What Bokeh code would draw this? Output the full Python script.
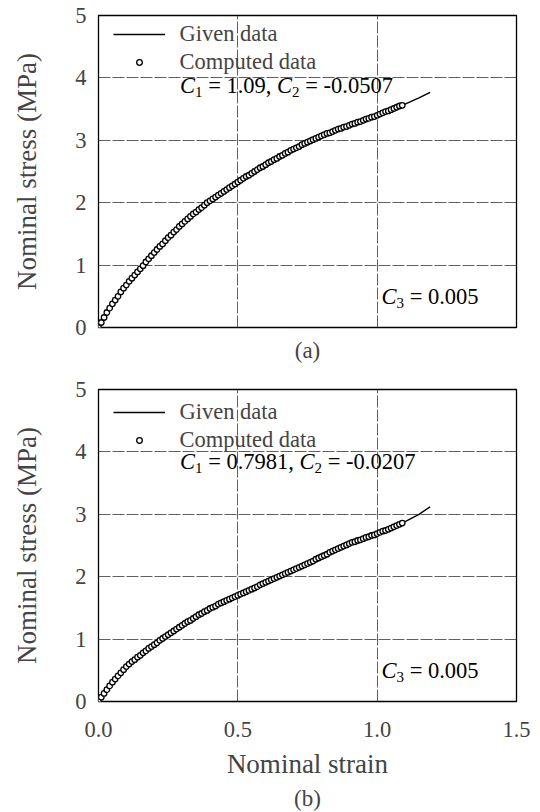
from bokeh.plotting import figure
from bokeh.models import FixedTicker, Legend, LegendItem, Label, Title, Grid
from bokeh.layouts import column
from bokeh.embed import file_html
from bokeh.resources import INLINE

FONT = "Liberation Serif"

# ---------------- data ----------------
x_ticks = [0.0, 0.5, 1.0, 1.5]
x_tick_labels = ["0.0", "0.5", "1.0", "1.5"]
y_ticks = [0, 1, 2, 3, 4, 5]
y_tick_labels = ["0", "1", "2", "3", "4", "5"]

# (a) given data (line)
a_given_strain = [0.0, 0.05, 0.10, 0.15, 0.20, 0.25, 0.30, 0.35, 0.40, 0.45, 0.50, 0.55, 0.60,
                  0.65, 0.70, 0.75, 0.80, 0.85, 0.90, 0.95, 1.00, 1.05, 1.10, 1.15, 1.19]
a_given_stress = [0.0, 0.38, 0.68, 0.94, 1.20, 1.44, 1.66, 1.85, 2.03, 2.18, 2.33, 2.47, 2.61,
                  2.74, 2.86, 2.97, 3.07, 3.16, 3.24, 3.32, 3.40, 3.49, 3.58, 3.68, 3.77]

# computed data strains (both panels)
comp_strain = [0.00, 0.01, 0.02, 0.03, 0.04, 0.05, 0.06, 0.07, 0.08, 0.09,
               0.10, 0.11, 0.12, 0.13, 0.14, 0.15, 0.16, 0.17, 0.18, 0.19,
               0.20, 0.21, 0.22, 0.23, 0.24, 0.25, 0.26, 0.27, 0.28, 0.29,
               0.30, 0.31, 0.32, 0.33, 0.34, 0.35, 0.36, 0.37, 0.38, 0.39,
               0.40, 0.41, 0.42, 0.43, 0.44, 0.45, 0.46, 0.47, 0.48, 0.49,
               0.50, 0.51, 0.52, 0.53, 0.54, 0.55, 0.56, 0.57, 0.58, 0.59,
               0.60, 0.61, 0.62, 0.63, 0.64, 0.65, 0.66, 0.67, 0.68, 0.69,
               0.70, 0.71, 0.72, 0.73, 0.74, 0.75, 0.76, 0.77, 0.78, 0.79,
               0.80, 0.81, 0.82, 0.83, 0.84, 0.85, 0.86, 0.87, 0.88, 0.89,
               0.90, 0.91, 0.92, 0.93, 0.94, 0.95, 0.96, 0.97, 0.98, 0.99,
               1.00, 1.01, 1.02, 1.03, 1.04, 1.05, 1.06, 1.07, 1.08, 1.09]

a_comp_stress = [0.00, 0.08, 0.16, 0.24, 0.31, 0.38, 0.44, 0.50, 0.57, 0.63,
                 0.68, 0.74, 0.79, 0.84, 0.89, 0.94, 0.99, 1.05, 1.10, 1.15,
                 1.20, 1.25, 1.30, 1.34, 1.39, 1.44, 1.48, 1.53, 1.57, 1.62,
                 1.66, 1.70, 1.74, 1.78, 1.82, 1.85, 1.89, 1.92, 1.96, 2.00,
                 2.03, 2.06, 2.09, 2.12, 2.15, 2.18, 2.21, 2.24, 2.27, 2.30,
                 2.33, 2.36, 2.39, 2.42, 2.44, 2.47, 2.50, 2.53, 2.56, 2.58,
                 2.61, 2.64, 2.66, 2.69, 2.71, 2.74, 2.76, 2.79, 2.81, 2.84,
                 2.86, 2.88, 2.90, 2.93, 2.95, 2.97, 2.99, 3.01, 3.03, 3.05,
                 3.07, 3.09, 3.11, 3.12, 3.14, 3.16, 3.18, 3.19, 3.21, 3.22,
                 3.24, 3.26, 3.27, 3.29, 3.30, 3.32, 3.34, 3.35, 3.37, 3.38,
                 3.40, 3.42, 3.44, 3.46, 3.47, 3.49, 3.51, 3.53, 3.55, 3.56]

# (b) given data (line)
b_given_strain = [0.0, 0.05, 0.10, 0.15, 0.20, 0.25, 0.30, 0.35, 0.40, 0.45, 0.50, 0.55, 0.60,
                  0.65, 0.70, 0.75, 0.80, 0.85, 0.90, 0.95, 1.00, 1.05, 1.09, 1.15, 1.19]
b_given_stress = [0.0, 0.31, 0.56, 0.74, 0.91, 1.07, 1.22, 1.36, 1.49, 1.60, 1.70, 1.80, 1.91,
                  2.01, 2.11, 2.21, 2.32, 2.43, 2.53, 2.61, 2.69, 2.78, 2.86, 3.00, 3.12]

b_comp_stress = [0.00, 0.07, 0.13, 0.19, 0.25, 0.31, 0.36, 0.41, 0.46, 0.51,
                 0.56, 0.60, 0.64, 0.67, 0.71, 0.74, 0.78, 0.81, 0.85, 0.88,
                 0.91, 0.94, 0.98, 1.01, 1.04, 1.07, 1.10, 1.13, 1.16, 1.19,
                 1.22, 1.25, 1.28, 1.30, 1.33, 1.36, 1.39, 1.41, 1.44, 1.46,
                 1.49, 1.51, 1.53, 1.56, 1.58, 1.60, 1.62, 1.64, 1.66, 1.68,
                 1.70, 1.72, 1.74, 1.76, 1.78, 1.80, 1.82, 1.84, 1.87, 1.89,
                 1.91, 1.93, 1.95, 1.97, 1.99, 2.01, 2.03, 2.05, 2.07, 2.09,
                 2.11, 2.13, 2.15, 2.17, 2.19, 2.21, 2.23, 2.25, 2.28, 2.30,
                 2.32, 2.34, 2.36, 2.39, 2.41, 2.43, 2.45, 2.47, 2.49, 2.51,
                 2.53, 2.55, 2.56, 2.58, 2.59, 2.61, 2.63, 2.64, 2.66, 2.67,
                 2.69, 2.71, 2.73, 2.74, 2.76, 2.78, 2.80, 2.82, 2.84, 2.86]

a_params = [("C", "i"), ("1", "s"), (" = 1.09, ", "n"), ("C", "i"), ("2", "s"), (" = -0.0507", "n")]
b_params = [("C", "i"), ("1", "s"), (" = 0.7981, ", "n"), ("C", "i"), ("2", "s"), (" = -0.0207", "n")]
c3_text = [("C", "i"), ("3", "s"), (" = 0.005", "n")]

legend_labels = ["Given data", "Computed data"]
x_title = "Nominal strain"
y_title = "Nominal stress (MPa)"

# ---------------- helpers ----------------
# Times / Liberation Serif advance widths (per 1000 em)
ADV = {" ": 250, "=": 564, ".": 250, ",": 250, "-": 333, "C": 667}
for d in "0123456789":
    ADV[d] = 500

FS = 22.5     # main text size px
SUB = 15.0    # subscript size px
SUB_DROP = 6  # px


def tw(s, size):
    return sum(ADV.get(c, 500) for c in s) / 1000.0 * size


def add_rich(p, segments, x_px, y_data):
    cur = x_px
    for txt, kind in segments:
        size = SUB if kind == "s" else FS
        lead = len(txt) - len(txt.lstrip(" "))
        stripped = txt.strip(" ")
        off = cur + tw(" " * lead, size)
        p.add_layout(Label(x=0, y=y_data, x_units="data", y_units="data",
                           x_offset=off, y_offset=(-SUB_DROP if kind == "s" else 0),
                           text=stripped, text_font=FONT,
                           text_font_size=f"{size}px",
                           text_font_style=("italic" if kind == "i" else "normal"),
                           text_color="black", text_baseline="alphabetic",
                           text_align="left"))
        cur += tw(txt, size)


FRAME_H = 312
FIG_W = 540


def panel(given_x, given_y, comp_y, params, caption, cap_offset, cap_standoff, height,
          top_border, bottom_border, show_x, legend_top, params_y):
    p = figure(width=FIG_W, height=height, x_range=(0, 1.5), y_range=(0, 5),
               output_backend="svg", toolbar_location=None,
               x_axis_location=("below" if show_x else None),
               min_border_left=98, min_border_right=FIG_W - 98 - 418,
               min_border_top=top_border, min_border_bottom=bottom_border,
               background_fill_color="white", border_fill_color="white")
    p.center = []
    p.outline_line_color = "black"
    p.outline_line_width = 1.3

    for dim, ticks in ((0, x_ticks), (1, y_ticks)):
        p.add_layout(Grid(dimension=dim, ticker=FixedTicker(ticks=ticks),
                          grid_line_color="#444444", grid_line_width=1,
                          grid_line_dash="12 2", grid_line_alpha=0.85))

    ya = p.yaxis[0]
    ya.ticker = FixedTicker(ticks=y_ticks)
    ya.major_label_overrides = {t: l for t, l in zip(y_ticks, y_tick_labels)}
    ya.axis_label = y_title
    ya.axis_label_text_font = FONT
    ya.axis_label_text_font_size = "27px"
    ya.axis_label_text_font_style = "normal"
    ya.axis_label_standoff = 30
    ya.major_label_text_font = FONT
    ya.major_label_text_font_size = f"{FS}px"
    ya.major_label_standoff = 6
    ya.axis_line_color = None
    ya.major_tick_line_color = None
    ya.minor_tick_line_color = None

    if show_x:
        xa = p.xaxis[0]
        xa.ticker = FixedTicker(ticks=x_ticks)
        xa.major_label_overrides = {t: l for t, l in zip(x_ticks, x_tick_labels)}
        xa.axis_label = x_title
        xa.axis_label_text_font = FONT
        xa.axis_label_text_font_size = "27px"
        xa.axis_label_text_font_style = "normal"
        xa.axis_label_standoff = 9
        xa.major_label_text_font = FONT
        xa.major_label_text_font_size = f"{FS}px"
        xa.major_label_standoff = 14
        xa.axis_line_color = None
        xa.major_tick_line_color = None
        xa.minor_tick_line_color = None

    line_r = p.line(given_x, given_y, line_color="black", line_width=1.4)
    circ_r = p.scatter(comp_strain, comp_y, marker="circle", size=5.5,
                       fill_color="white", line_color="black", line_width=1.3)

    H = 56
    legend = Legend(items=[LegendItem(label=legend_labels[0], renderers=[line_r]),
                           LegendItem(label=legend_labels[1], renderers=[circ_r])],
                    location=(14.5, FRAME_H - legend_top - H),
                    padding=0, margin=0, spacing=0,
                    glyph_width=52, glyph_height=14, label_height=28,
                    label_standoff=15,
                    label_text_font=FONT, label_text_font_size=f"{FS}px",
                    border_line_alpha=0, background_fill_alpha=0)
    p.add_layout(legend)

    add_rich(p, params, 81.5, params_y)
    add_rich(p, c3_text, 283, 0.49)

    p.add_layout(Title(text=caption, align="center", offset=cap_offset,
                       text_font=FONT, text_font_size="23px",
                       text_font_style="normal", standoff=cap_standoff), "below")
    return p


p1 = panel(a_given_strain, a_given_stress, a_comp_stress, a_params, "(a)", -8, 17,
           377, 15, 50, False, 4.5, 3.875)
p2 = panel(b_given_strain, b_given_stress, b_comp_stress, b_params, "(b)", -14, 4,
           435, 12, 111, True, 9, 3.845)

layout = column(p1, p2, spacing=0)
open("out.html", "w").write(file_html(layout, INLINE))
